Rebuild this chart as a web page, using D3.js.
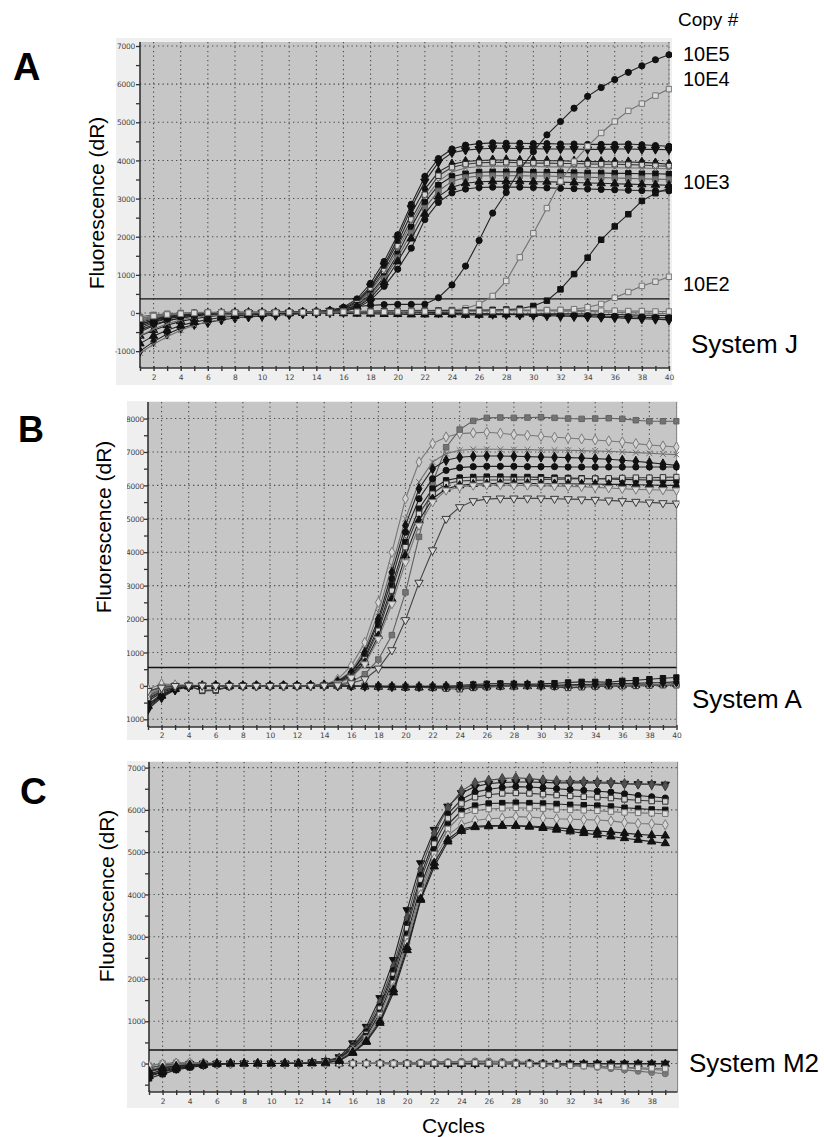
<!DOCTYPE html>
<html>
<head>
<meta charset="utf-8">
<script src="https://cdn.jsdelivr.net/npm/d3@7"></script>
<style>
  body { margin: 0; background: #fff; }
  svg { display: block; }
  text { font-family: "Liberation Sans", Arial, sans-serif; }
</style>
</head>
<body>
<svg id="fig" width="824" height="1137"></svg>
<script>
// ---------------- data (fluorescence dR per cycle) ----------------
var cyclesJ = d3.range(1, 41), cyclesA = d3.range(1, 41), cyclesM2 = d3.range(1, 40);
var yTicksJ = [-1000, 0, 1000, 2000, 3000, 4000, 5000, 6000, 7000];
var yTicksA = [-1000, 0, 1000, 2000, 3000, 4000, 5000, 6000, 7000, 8000];
var yTicksM2 = [0, 1000, 2000, 3000, 4000, 5000, 6000, 7000];
var xTickLabels = d3.range(2, 41, 2);
var copyLabels = ["10E5", "10E4", "10E3", "10E2"];
var systemNames = ["System J", "System A", "System M2"];
var thresholds = [370, 550, 320];

// System J: negatives, positives, then the dilution series
var sysJ = [
  [-1000,-750,-550,-400,-300,-250,-180,-130,-100,-80,-60,-40,-20,0,10,20,30,40,50,40,30,20,10,0,-10,-20,-30,-40,-50,-60,-70,-80,-90,-100,-110,-120,-140,-150,-160,-180],
  [-1050,-820,-620,-450,-320,-230,-170,-120,-80,-50,-30,-10,0,10,10,20,30,30,40,50,50,50,60,60,60,60,60,70,70,60,60,50,50,40,30,20,10,0,-10,-20],
  [-600,-450,-320,-220,-150,-100,-60,-40,-20,-10,0,0,0,0,0,-10,-20,-20,-30,-30,-40,-40,-40,-40,-50,-50,-50,-40,-40,-30,-20,-20,-20,-30,-40,-40,-50,-60,-60,-70],
  [-200,-120,-60,-30,-10,0,10,20,20,20,20,10,10,10,20,30,40,50,60,60,70,70,70,70,80,80,80,80,80,80,80,80,70,70,60,60,50,50,40,40],
  [-500,-330,-210,-130,-80,-40,-20,0,10,20,20,30,30,30,30,20,20,10,10,0,0,0,-10,-10,-10,-20,-20,-20,-30,-30,-40,-50,-60,-70,-80,-90,-100,-110,-120,-130],
  [-300,-190,-120,-70,-40,-20,-10,0,0,10,10,10,20,40,70,150,370,780,1350,2050,2850,3580,4050,4300,4400,4440,4460,4450,4450,4440,4440,4430,4430,4420,4420,4420,4430,4410,4390,4370],
  [-450,-300,-200,-130,-80,-50,-30,-10,0,0,10,10,20,30,60,120,320,700,1250,1950,2750,3450,3950,4200,4270,4300,4320,4320,4310,4310,4300,4300,4300,4290,4290,4300,4300,4290,4290,4280],
  [-250,-150,-90,-50,-30,-10,0,10,10,10,10,20,20,30,50,100,280,650,1200,1850,2600,3250,3700,3900,3970,4000,4010,4010,4000,4000,3990,3990,3980,3970,3970,3960,3960,3950,3930,3900],
  [-150,-80,-40,-20,0,10,10,20,20,20,20,20,30,30,50,90,250,600,1100,1750,2450,3100,3600,3820,3900,3940,3950,3950,3940,3930,3930,3920,3920,3910,3900,3900,3890,3880,3860,3850],
  [-600,-420,-280,-180,-110,-70,-40,-20,-10,0,0,10,10,20,40,80,230,560,1050,1650,2350,3000,3450,3700,3800,3840,3850,3850,3840,3840,3830,3830,3820,3820,3810,3810,3800,3800,3790,3780],
  [-350,-220,-140,-90,-50,-30,-10,0,0,10,10,10,20,20,40,70,200,500,950,1550,2250,2900,3350,3580,3650,3690,3700,3700,3700,3690,3690,3680,3680,3670,3670,3660,3660,3650,3650,3640],
  [-100,-50,-20,0,10,20,20,20,20,20,20,20,20,30,40,60,180,450,900,1450,2100,2750,3200,3450,3550,3590,3600,3600,3600,3590,3590,3580,3570,3560,3550,3540,3530,3520,3510,3500],
  [-800,-600,-450,-330,-240,-170,-120,-80,-50,-30,-20,-10,0,10,30,50,160,400,800,1350,1950,2600,3050,3300,3400,3440,3450,3450,3450,3440,3440,3430,3420,3410,3400,3390,3380,3370,3360,3350],
  [-200,-120,-70,-40,-20,-10,0,0,10,10,10,10,10,20,30,40,130,330,700,1150,1700,2450,2900,3150,3250,3290,3300,3300,3300,3290,3280,3270,3260,3250,3240,3230,3220,3210,3200,3200],
  [-400,-250,-150,-90,-50,-30,-10,0,10,10,20,20,30,40,60,120,170,200,220,225,225,230,400,735,1230,1900,2620,3160,3750,4230,4670,5020,5370,5680,5910,6120,6310,6480,6640,6770],
  [-200,-120,-60,-30,-10,0,10,10,10,20,20,20,20,30,30,40,40,50,50,50,60,60,70,80,120,236,446,840,1460,2090,2750,3450,3970,4370,4720,5020,5300,5490,5700,5870],
  [-300,-180,-100,-60,-30,-10,0,10,10,10,10,20,20,20,30,30,40,40,50,50,50,60,60,60,70,70,80,90,110,184,323,620,1020,1450,1920,2270,2590,2940,3140,3270],
  [-150,-80,-40,-20,0,10,10,10,10,10,10,20,20,20,20,30,30,30,30,40,40,40,40,40,50,50,50,60,60,60,70,80,100,150,236,400,550,710,820,950]
];
var sysJMarks = ["diamond","x","triangle","squareOpenLight","circle",
  "circle","triDown","diamond","squareOpen","x","square","squareGray","triangle","circle",
  "circle","squareOpenLight","square","squareOpenLight"];

// System A
var sysA = [
  [-400,-150,-30,10,0,0,0,0,0,0,0,0,10,20,20,10,0,-20,-30,-40,-40,-30,-10,20,40,60,70,60,50,60,80,100,120,120,110,150,170,200,230,250],
  [-600,-280,-80,-10,0,0,0,0,0,0,0,0,0,0,0,-10,-20,-30,-40,-50,-50,-50,-50,-40,-30,-20,-20,-20,-10,-10,0,0,10,10,20,20,30,40,50,60],
  [-300,-100,-30,0,-150,-140,-30,0,0,0,0,0,0,0,-10,-20,-20,-30,-30,-40,-40,-60,-80,-100,-60,-40,-20,-10,0,-10,-30,-60,-40,-20,-10,-10,0,10,20,20],
  [-200,-50,0,10,10,10,0,0,0,0,0,0,10,10,10,10,0,0,0,0,0,0,0,0,0,0,0,0,0,10,10,10,20,20,20,30,30,30,40,40],
  [-650,-320,-100,-20,0,0,0,0,0,0,0,0,0,0,0,0,-10,-10,-20,-20,-20,-20,-10,-10,0,10,20,30,30,20,20,30,40,50,60,70,80,90,100,120],
  [-100,60,30,20,10,0,0,0,0,0,0,0,10,30,200,600,1300,2500,4000,5600,6700,7250,7450,7550,7570,7590,7560,7520,7500,7470,7440,7420,7390,7360,7330,7300,7250,7210,7180,7150],
  [-300,-100,-20,10,10,0,0,0,0,0,0,0,10,20,50,120,350,790,1520,2800,4460,6080,7140,7670,7930,8020,8030,8020,8030,8040,8020,8000,7990,8000,8010,7990,7950,7920,7920,7920],
  [-200,0,20,20,10,0,0,0,0,0,0,0,10,30,150,450,1100,2200,3600,5000,6100,6700,6950,7050,7080,7080,7080,7070,7070,7060,7060,7050,7040,7030,7020,7000,6980,6960,6940,6920],
  [-700,-350,-120,-30,0,10,10,0,0,0,0,0,10,30,130,400,1000,2000,3400,4800,5900,6500,6750,6840,6870,6880,6880,6870,6860,6850,6840,6830,6820,6800,6780,6750,6720,6680,6640,6600],
  [-550,-250,-80,-10,10,10,0,0,0,0,0,0,10,20,120,380,950,1900,3200,4600,5600,6200,6450,6530,6560,6570,6570,6570,6560,6560,6560,6550,6550,6550,6550,6550,6550,6550,6550,6550],
  [-450,-200,-60,0,10,0,0,0,0,0,0,0,10,20,100,330,850,1750,3000,4300,5300,5900,6150,6230,6250,6260,6260,6250,6250,6240,6230,6220,6210,6200,6190,6180,6170,6160,6150,6150],
  [-350,-150,-40,0,-130,-120,-20,0,0,0,0,0,10,20,90,300,800,1650,2850,4150,5150,5750,6050,6130,6150,6160,6160,6160,6170,6180,6180,6190,6200,6200,6210,6220,6230,6230,6240,6250],
  [-600,-300,-100,-20,0,0,0,0,0,0,0,0,10,20,80,270,700,1500,2600,3900,4950,5600,5900,6000,6040,6050,6060,6060,6060,6050,6050,6050,6040,6040,6030,6030,6020,6010,6000,6000],
  [-250,-80,0,10,10,0,0,0,0,0,0,0,0,10,70,250,650,1400,2450,3700,4800,5500,5850,5950,6000,6010,6010,6000,6000,5990,5980,5970,5960,5940,5920,5900,5880,5870,5860,5850],
  [-150,-50,0,10,10,0,0,0,0,0,0,0,0,10,20,80,200,520,1070,1970,3090,4060,5000,5350,5530,5590,5610,5610,5610,5610,5600,5590,5580,5570,5550,5530,5510,5490,5470,5460]
];
var sysAMarks = ["square","triangle","squareOpen","x","diamond",
  "diamondOpen","squareGray","x","diamond","circle","square","squareOpen","triangle","triDownOpenLight","triDownOpen"];

// System M2
var sysM2 = [
  [-200,-120,-60,-30,-10,0,0,0,0,0,0,0,0,0,0,0,0,10,20,20,30,40,40,50,50,40,30,20,10,0,-20,-40,-60,-90,-120,-150,-180,-210,-240],
  [-150,-80,-30,-10,0,0,0,0,0,0,0,0,0,0,0,0,0,0,0,0,0,0,0,0,0,0,0,0,0,0,0,0,0,0,0,0,0,0,0],
  [-100,-50,-20,0,0,0,0,0,0,0,0,0,0,0,0,10,10,20,20,20,30,30,40,50,60,60,50,40,30,20,0,-20,-40,-60,-80,-100,-120,-140,-160],
  [-300,-200,-120,-70,-30,-10,0,0,0,0,0,0,0,0,0,0,0,0,-10,-10,-10,-10,-10,-10,-10,-10,-10,-10,-10,-10,-10,-10,-10,-10,-10,-10,-10,-10,-10],
  [-50,0,20,20,10,0,0,0,0,0,0,0,0,0,0,0,0,0,0,0,10,10,20,20,20,10,0,-10,-20,-30,-40,-50,-60,-70,-80,-90,-100,-110,-120],
  [-300,-200,-120,-60,-30,-10,0,0,0,0,0,10,30,60,150,480,870,1550,2450,3630,4740,5530,6080,6400,6550,6620,6650,6660,6660,6650,6640,6640,6640,6640,6630,6620,6610,6610,6600],
  [-100,-40,0,10,10,0,0,0,0,0,10,10,20,50,130,420,800,1450,2300,3450,4600,5450,6050,6450,6640,6700,6740,6760,6740,6710,6690,6680,6670,6660,6650,6620,6610,6600,6570],
  [-250,-150,-80,-40,-20,-10,0,0,0,0,0,10,20,40,120,400,750,1350,2200,3300,4450,5300,5900,6250,6420,6490,6530,6550,6540,6520,6500,6480,6460,6440,6420,6380,6340,6310,6280],
  [-200,-100,-50,-20,0,0,0,0,0,0,0,10,20,40,110,380,700,1300,2100,3200,4350,5200,5800,6150,6300,6360,6390,6400,6390,6370,6350,6330,6310,6300,6280,6250,6230,6210,6200],
  [-350,-250,-150,-90,-50,-20,-10,0,0,0,0,10,20,30,100,350,650,1200,2000,3050,4200,5050,5650,5980,6100,6150,6160,6170,6160,6150,6140,6120,6110,6100,6080,6050,6030,6010,6000],
  [-150,-80,-30,-10,0,0,0,0,0,0,0,10,10,30,90,320,600,1150,1900,2950,4100,4950,5550,5880,5980,6020,6040,6050,6040,6030,6010,6000,5990,5980,5960,5940,5930,5920,5910],
  [-50,-10,10,20,10,0,0,0,0,0,0,10,10,20,80,300,560,1050,1800,2850,4000,4850,5400,5650,5750,5790,5810,5840,5830,5810,5790,5780,5770,5760,5740,5700,5680,5670,5650],
  [-280,-180,-100,-60,-30,-10,0,0,0,0,0,0,10,20,70,270,530,1000,1750,2750,3900,4750,5300,5550,5610,5630,5630,5630,5620,5600,5580,5550,5520,5500,5480,5450,5420,5400,5390],
  [-180,-100,-60,-30,-10,0,0,0,0,0,0,0,10,20,60,250,510,960,1680,2680,3870,4660,5250,5500,5590,5610,5620,5620,5600,5570,5530,5490,5450,5410,5370,5330,5290,5250,5210]
];
var sysM2Marks = ["circleGray","triDown","circleGray","triangle","squareOpenLight",
  "triDown","diamondGray","circle","squareOpen","square","squareOpenLight","diamondOpen","triangle","triangle"];

// ---------------- marker styles ----------------
var symX = { draw: function(ctx, size) {
  var r = Math.sqrt(size) / 2;
  ctx.moveTo(-r, -r); ctx.lineTo(r, r); ctx.moveTo(r, -r); ctx.lineTo(-r, r);
} };
var markStyle = {
  circle:          { type: d3.symbolCircle,   fill: "#111",    stroke: "#111",    line: "#222" },
  circleGray:      { type: d3.symbolCircle,   fill: "#7c7c7c", stroke: "#6c6c6c", line: "#6a6a6a" },
  square:          { type: d3.symbolSquare,   fill: "#111",    stroke: "#111",    line: "#222" },
  squareGray:      { type: d3.symbolSquare,   fill: "#737373", stroke: "#636363", line: "#606060" },
  squareOpen:      { type: d3.symbolSquare,   fill: "#d0d0d0", stroke: "#2e2e2e", line: "#3a3a3a" },
  squareOpenLight: { type: d3.symbolSquare,   fill: "#dcdcdc", stroke: "#757575", line: "#707070" },
  diamond:         { type: d3.symbolDiamond,  fill: "#111",    stroke: "#111",    line: "#222" },
  diamondGray:     { type: d3.symbolDiamond,  fill: "#505050", stroke: "#404040", line: "#4a4a4a" },
  diamondOpen:     { type: d3.symbolDiamond,  fill: "#d4d4d4", stroke: "#7a7a7a", line: "#777" },
  triangle:        { type: d3.symbolTriangle, fill: "#111",    stroke: "#111",    line: "#222" },
  triDown:         { type: d3.symbolTriangle, fill: "#111",    stroke: "#111",    line: "#222", flip: true },
  triDownOpen:     { type: d3.symbolTriangle, fill: "#d6d6d6", stroke: "#3a3a3a", line: "#444", flip: true },
  triDownOpenLight:{ type: d3.symbolTriangle, fill: "#d8d8d8", stroke: "#787878", line: "#777", flip: true },
  x:               { type: symX,              fill: "none",    stroke: "#707070", line: "#707070" }
};

// ---------------- panel layout ----------------
var panels = [
  { letter: "A", letterX: 13, letterY: 80, letterSize: 38,
    values: sysJ, marks: sysJMarks, cycles: cyclesJ, yTicks: yTicksJ,
    x0: 140, x1: 669, y0: 42, y1: 368, frame: [116, 38, 672, 385],
    xDomain: [1, 40], yDomain: [-1442, 7105], yLabelRight: 135, xLabelY: 380,
    titleX: 104, titleY: 203, threshold: thresholds[0],
    system: systemNames[0], systemX: 691, systemY: 353 },
  { letter: "B", letterX: 18, letterY: 442, letterSize: 36,
    values: sysA, marks: sysAMarks, cycles: cyclesA, yTicks: yTicksA,
    x0: 148, x1: 676.5, y0: 402, y1: 727, frame: [127, 401, 678, 740],
    xDomain: [1, 40], yDomain: [-1230, 8495], yLabelRight: 144, xLabelY: 738,
    titleX: 111, titleY: 527, threshold: thresholds[1], clipLabels: true,
    system: systemNames[1], systemX: 692, systemY: 708 },
  { letter: "C", letterX: 20, letterY: 804, letterSize: 37,
    values: sysM2, marks: sysM2Marks, cycles: cyclesM2, yTicks: yTicksM2,
    x0: 149, x1: 677.5, y0: 762, y1: 1092, frame: [127, 761, 679, 1108],
    xDomain: [1, 39.9], yDomain: [-673, 7133], yLabelRight: 145.5, xLabelY: 1104,
    titleX: 114, titleY: 896, threshold: thresholds[2],
    system: systemNames[2], systemX: 689, systemY: 1072 }
];

var svg = d3.select("#fig");
var defs = svg.append("defs");

panels.forEach(function(p, pi) {
  var x = d3.scaleLinear().domain(p.xDomain).range([p.x0, p.x1]);
  var y = d3.scaleLinear().domain(p.yDomain).range([p.y1, p.y0]);
  var g = svg.append("g");

  // light software frame + gray plot area
  g.append("rect")
    .attr("x", p.frame[0]).attr("y", p.frame[1])
    .attr("width", p.frame[2] - p.frame[0]).attr("height", p.frame[3] - p.frame[1])
    .attr("fill", "#efefef");
  g.append("rect")
    .attr("x", p.x0).attr("y", p.y0)
    .attr("width", p.x1 - p.x0).attr("height", p.y1 - p.y0)
    .attr("fill", "#c6c6c6");

  var clipId = "clip" + pi;
  defs.append("clipPath").attr("id", clipId)
    .append("rect").attr("x", p.x0).attr("y", p.y0)
    .attr("width", p.x1 - p.x0 + 3).attr("height", p.y1 - p.y0);

  // dotted grid
  var grid = g.append("g").attr("stroke", "#4a4a4a").attr("stroke-width", 1.1)
    .attr("stroke-dasharray", "1.3,3.2");
  grid.selectAll("line.v").data(xTickLabels.filter(function(c) { return c <= p.xDomain[1]; }))
    .enter().append("line")
    .attr("x1", function(d) { return x(d); }).attr("x2", function(d) { return x(d); })
    .attr("y1", p.y0).attr("y2", p.y1);
  grid.selectAll("line.h").data(p.yTicks).enter().append("line")
    .attr("x1", p.x0).attr("x2", p.x1)
    .attr("y1", function(d) { return y(d); }).attr("y2", function(d) { return y(d); });
  g.append("line").attr("x1", p.x1).attr("x2", p.x1).attr("y1", p.y0).attr("y2", p.y1)
    .attr("stroke", "#8a8a8a").attr("stroke-width", 1);

  // y axis: major ticks labelled, minor every 500
  var minor = d3.range(Math.ceil(p.yDomain[0] / 500) * 500, p.yDomain[1], 500);
  var yAxis = d3.axisLeft(y).tickValues(minor).tickSize(4)
    .tickFormat(function(d) { return d % 1000 === 0 ? d : ""; });
  var ya = g.append("g").attr("transform", "translate(" + p.x0 + ",0)").call(yAxis);
  ya.select(".domain").attr("stroke", "#333").attr("stroke-width", 1.6)
    .attr("d", "M0," + p.y0 + "V" + p.y1);
  ya.selectAll(".tick line").attr("stroke", "#333").attr("stroke-width", 1.3);
  ya.selectAll(".tick text")
    .attr("x", p.yLabelRight - p.x0).attr("dy", "0.35em")
    .attr("fill", "#444").style("font-size", "7.5px")
    .style("font-family", "'DejaVu Sans', Verdana, sans-serif")
    .style("letter-spacing", "-0.3px");
  if (p.clipLabels) {
    defs.append("clipPath").attr("id", "lab" + pi)
      .append("rect").attr("x", p.frame[0] - p.x0).attr("y", p.y0 - 20)
      .attr("width", 40).attr("height", p.y1 - p.y0 + 40);
    ya.attr("clip-path", "url(#lab" + pi + ")");
  }

  // x axis: tick every cycle, label every 2
  var xTicks = p.cycles.filter(function(c) { return c <= p.xDomain[1]; });
  var xAxis = d3.axisBottom(x).tickValues(xTicks).tickSize(3)
    .tickFormat(function(d) { return d % 2 === 0 ? d : ""; });
  var xa = g.append("g").attr("transform", "translate(0," + p.y1 + ")").call(xAxis);
  xa.select(".domain").attr("stroke", "#333").attr("stroke-width", 1.6)
    .attr("d", "M" + p.x0 + ",0H" + p.x1);
  xa.selectAll(".tick line").attr("stroke", "#333").attr("stroke-width", 1.4)
    .attr("y1", -2).attr("y2", 3);
  xa.selectAll(".tick text")
    .attr("y", p.xLabelY - p.y1).attr("dy", 0)
    .attr("fill", "#444").style("font-size", "7.5px")
    .style("font-family", "'DejaVu Sans', Verdana, sans-serif");

  // threshold line
  g.append("line")
    .attr("x1", p.x0).attr("x2", p.x1)
    .attr("y1", y(p.threshold)).attr("y2", y(p.threshold))
    .attr("stroke", "#111").attr("stroke-width", 1.4);

  // amplification curves
  var plot = g.append("g").attr("clip-path", "url(#" + clipId + ")");
  var line = d3.line()
    .x(function(d, i) { return x(p.cycles[i]); })
    .y(function(d) { return y(d); });
  p.values.forEach(function(vals, si) {
    var st = markStyle[p.marks[si]];
    var sg = plot.append("g");
    sg.append("path").datum(vals).attr("d", line)
      .attr("fill", "none").attr("stroke", st.line).attr("stroke-width", 1.1);
    var sym = d3.symbol().type(st.type).size(st.type === symX ? 34 : 30);
    sg.selectAll("path.m").data(vals).enter().append("path")
      .attr("class", "m")
      .attr("d", sym)
      .attr("transform", function(d, i) {
        return "translate(" + x(p.cycles[i]) + "," + y(d) + ")" + (st.flip ? " rotate(180)" : "");
      })
      .attr("fill", st.fill).attr("stroke", st.stroke).attr("stroke-width", 1);
  });

  // texts
  svg.append("text").attr("x", p.letterX).attr("y", p.letterY)
    .style("font-size", p.letterSize + "px").style("font-weight", "bold").text(p.letter);
  svg.append("text")
    .attr("transform", "translate(" + p.titleX + "," + p.titleY + ") rotate(-90)")
    .attr("text-anchor", "middle").style("font-size", "21px")
    .text("Fluorescence (dR)");
  svg.append("text").attr("x", p.systemX).attr("y", p.systemY)
    .style("font-size", "26px").text(p.system);
});

// copy-number annotations for System J
svg.append("text").attr("x", 678).attr("y", 26).style("font-size", "19px").text("Copy #");
var copyY = [60.5, 86, 188.5, 291];
svg.selectAll("text.copy").data(copyLabels).enter().append("text")
  .attr("class", "copy")
  .attr("x", 683).attr("y", function(d, i) { return copyY[i]; })
  .style("font-size", "20px").text(function(d) { return d; });

svg.append("text").attr("x", 422).attr("y", 1133).style("font-size", "21px").text("Cycles");
</script>
</body>
</html>
